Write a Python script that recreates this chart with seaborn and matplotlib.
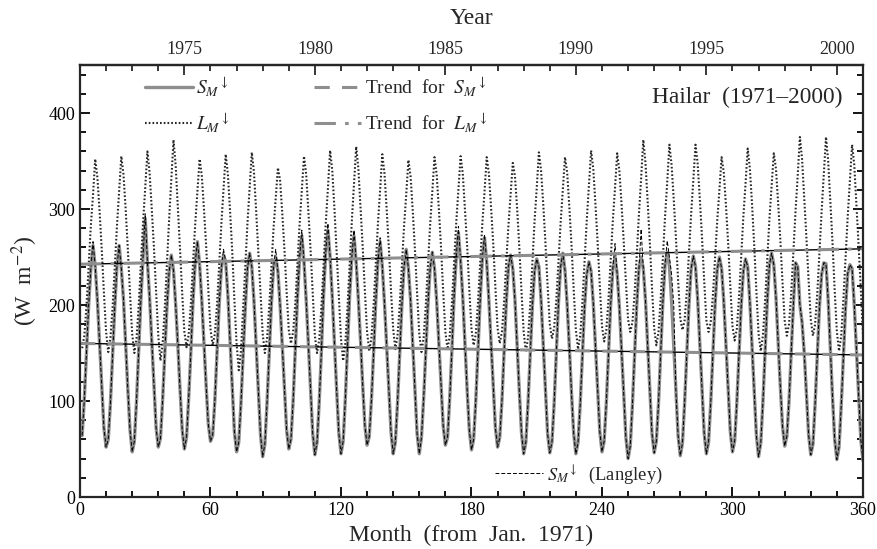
import numpy as np
import pandas as pd
import matplotlib
matplotlib.use("Agg")
import matplotlib.pyplot as plt
import seaborn as sns
from matplotlib.ticker import MultipleLocator

# ---------------- data ----------------
years = list(range(1971, 2001))

# monthly downward solar radiation S_M (W m-2), Jan..Dec for each year
sm_down = [
    [64, 102, 150, 200, 238, 262, 240, 205, 160, 114, 72, 52],   # 1971
    [60, 98, 148, 198, 240, 262, 238, 206, 158, 112, 70, 47],    # 1972
    [58, 100, 152, 205, 250, 290, 245, 208, 162, 115, 72, 52],   # 1973
    [61, 101, 150, 198, 235, 252, 236, 200, 158, 112, 70, 50],   # 1974
    [62, 104, 152, 205, 245, 266, 242, 205, 160, 116, 76, 58],   # 1975
    [64, 100, 149, 200, 238, 252, 245, 210, 162, 112, 68, 47],   # 1976
    [57, 97, 147, 197, 238, 254, 240, 204, 157, 110, 65, 42],    # 1977
    [55, 98, 150, 200, 240, 250, 235, 200, 158, 113, 70, 50],    # 1978
    [60, 100, 153, 207, 250, 272, 245, 205, 160, 112, 66, 44],   # 1979
    [57, 99, 152, 210, 255, 278, 250, 208, 160, 112, 67, 45],    # 1980
    [58, 102, 155, 210, 250, 272, 244, 205, 162, 116, 74, 54],   # 1981
    [63, 101, 150, 203, 245, 266, 240, 202, 158, 112, 68, 45],   # 1982
    [57, 98, 148, 200, 240, 258, 238, 205, 158, 110, 66, 45],    # 1983
    [62, 102, 150, 200, 238, 255, 238, 204, 160, 114, 74, 54],   # 1984
    [62, 103, 153, 208, 250, 275, 246, 208, 160, 112, 70, 49],   # 1985
    [60, 101, 152, 205, 248, 270, 245, 205, 160, 113, 72, 52],   # 1986
    [62, 100, 150, 202, 240, 252, 238, 205, 158, 110, 67, 45],   # 1987
    [57, 98, 148, 198, 235, 248, 240, 205, 158, 110, 66, 46],    # 1988
    [57, 97, 150, 202, 240, 254, 236, 200, 156, 108, 66, 45],    # 1989
    [57, 97, 147, 198, 232, 245, 235, 202, 157, 110, 68, 47],    # 1990
    [58, 98, 148, 200, 238, 250, 232, 198, 152, 105, 62, 40],    # 1991
    [53, 96, 148, 200, 238, 250, 238, 205, 158, 110, 66, 46],    # 1992
    [58, 98, 150, 203, 242, 255, 240, 204, 158, 110, 64, 43],    # 1993
    [56, 98, 150, 200, 238, 251, 240, 206, 160, 112, 66, 45],    # 1994
    [57, 98, 150, 200, 237, 250, 238, 204, 158, 112, 68, 47],    # 1995
    [58, 98, 148, 198, 235, 248, 240, 203, 156, 108, 64, 42],    # 1996
    [56, 99, 152, 203, 242, 254, 242, 208, 162, 115, 74, 53],    # 1997
    [63, 100, 150, 200, 244, 240, 200, 182, 150, 108, 65, 44],   # 1998
    [55, 97, 148, 198, 232, 244, 243, 205, 155, 104, 60, 39],    # 1999
    [52, 95, 147, 197, 233, 242, 238, 200, 153, 105, 60, 38],    # 2000
]

# monthly downward longwave radiation L_M (W m-2), Jan..Dec for each year
lm_down = [
    [155, 168, 200, 242, 283, 315, 352, 333, 298, 258, 213, 172],  # 1971
    [151, 166, 198, 240, 282, 318, 355, 336, 300, 258, 212, 170],  # 1972
    [150, 165, 200, 244, 286, 322, 360, 338, 300, 260, 214, 168],  # 1973
    [142, 160, 198, 243, 290, 330, 372, 345, 302, 258, 212, 172],  # 1974
    [156, 170, 202, 245, 285, 318, 352, 335, 300, 262, 216, 175],  # 1975
    [158, 170, 200, 242, 284, 320, 357, 336, 298, 256, 205, 160],  # 1976
    [132, 152, 195, 240, 285, 322, 359, 338, 298, 255, 210, 170],  # 1977
    [150, 165, 198, 240, 280, 312, 343, 330, 296, 258, 214, 174],  # 1978
    [160, 172, 202, 244, 285, 320, 355, 336, 298, 258, 212, 168],  # 1979
    [150, 164, 198, 242, 285, 322, 361, 340, 300, 255, 208, 165],  # 1980
    [142, 160, 198, 244, 288, 326, 365, 342, 302, 260, 214, 172],  # 1981
    [152, 166, 200, 243, 285, 320, 357, 337, 300, 260, 215, 175],  # 1982
    [154, 168, 200, 242, 282, 315, 351, 334, 298, 258, 212, 170],  # 1983
    [151, 166, 200, 243, 284, 318, 354, 336, 300, 260, 214, 172],  # 1984
    [154, 168, 202, 245, 286, 320, 355, 337, 300, 262, 216, 175],  # 1985
    [158, 170, 203, 245, 285, 318, 354, 337, 302, 264, 218, 176],  # 1986
    [160, 172, 204, 245, 283, 315, 348, 334, 300, 260, 214, 172],  # 1987
    [151, 166, 200, 244, 287, 322, 359, 340, 305, 265, 220, 180],  # 1988
    [165, 176, 205, 246, 286, 320, 354, 338, 302, 262, 216, 174],  # 1989
    [154, 168, 203, 246, 288, 324, 361, 342, 305, 265, 220, 178],  # 1990
    [162, 174, 206, 248, 288, 322, 358, 340, 305, 266, 224, 185],  # 1991
    [172, 182, 212, 252, 295, 332, 372, 348, 308, 265, 218, 176],  # 1992
    [158, 172, 207, 250, 292, 328, 367, 346, 310, 270, 226, 186],  # 1993
    [174, 184, 214, 254, 295, 330, 367, 347, 310, 270, 225, 184],  # 1994
    [172, 182, 210, 250, 288, 320, 354, 338, 304, 265, 220, 178],  # 1995
    [163, 175, 208, 250, 292, 326, 363, 342, 305, 262, 214, 170],  # 1996
    [152, 168, 205, 248, 290, 324, 358, 342, 306, 268, 224, 184],  # 1997
    [168, 180, 212, 255, 298, 335, 375, 352, 312, 270, 226, 185],  # 1998
    [168, 180, 212, 255, 298, 336, 375, 350, 308, 265, 215, 172],  # 1999
    [152, 168, 206, 250, 293, 330, 367, 346, 305, 262, 215, 170],  # 2000
]

# Langley-based S_M: same as S_M except these months (index 0 = Jan 1971)
langley_override = {5: 266, 29: 295, 65: 258, 89: 258, 101: 278, 113: 285,
                    125: 278, 137: 270, 173: 282, 185: 273, 245: 264,
                    257: 279, 269: 267, 270: 250, 271: 232, 272: 200}

trend_months = [0, 360]
trend_sm = [160.0, 148.0]
trend_lm = [242.5, 258.5]

year_labels = [1975, 1980, 1985, 1990, 1995, 2000]
month_ticks = [0, 60, 120, 180, 240, 300, 360]
y_ticks = [0, 100, 200, 300, 400]

# ---------------- build frames ----------------
month = np.arange(1, 361)
S = np.array(sm_down, dtype=float).ravel()
L = np.array(lm_down, dtype=float).ravel()
Lang = S.copy()
for k, v in langley_override.items():
    Lang[k] = v
df = pd.DataFrame({"month": month, "S": S, "L": L, "Lang": Lang})
dft = pd.DataFrame({"month": trend_months, "tS": trend_sm, "tL": trend_lm})

# ---------------- style ----------------
sns.set_theme(style="ticks")
plt.rcParams["font.family"] = ["Liberation Serif", "DejaVu Serif"]
plt.rcParams["mathtext.fontset"] = "stix"
plt.rcParams["axes.linewidth"] = 1.6

fig = plt.figure(figsize=(8.77, 5.49), dpi=100)
ax = fig.add_axes([0.0912, 0.0947, 0.8928, 0.7869])

gray = "#8e8e8e"
sns.lineplot(data=df, x="month", y="S", ax=ax, color=gray, lw=2.4)
hS = ax.lines[-1]
sns.lineplot(data=df, x="month", y="Lang", ax=ax, color="black", lw=0.7,
             linestyle=(0, (4, 2)))
hLang = ax.lines[-1]
sns.lineplot(data=df, x="month", y="L", ax=ax, color="#262626", lw=1.5,
             linestyle=(0, (0.8, 1.0)))
hL = ax.lines[-1]

# trend lines: thin black underlay + gray dashed on top
sns.lineplot(data=dft, x="month", y="tS", ax=ax, color="black", lw=1.0)
sns.lineplot(data=dft, x="month", y="tS", ax=ax, color=gray, lw=2.2,
             linestyle=(0, (5, 4)))
hTS = ax.lines[-1]
sns.lineplot(data=dft, x="month", y="tL", ax=ax, color="black", lw=1.0)
sns.lineplot(data=dft, x="month", y="tL", ax=ax, color=gray, lw=2.2,
             linestyle=(0, (7, 3, 1.2, 3)))
hTL = ax.lines[-1]

ax.set_xlim(0, 360)
ax.set_ylim(0, 450)
ax.set_xticks(month_ticks)
ax.set_yticks(y_ticks)
ax.xaxis.set_minor_locator(MultipleLocator(12))
ax.yaxis.set_minor_locator(MultipleLocator(20))
ax.tick_params(which="both", direction="in", top=False, right=True,
               labelsize=13, width=1.3, colors="black")
ax.tick_params(which="major", length=7)
ax.tick_params(which="minor", length=4)
ax.set_xlabel("Month  (from  Jan.  1971)", fontsize=17, labelpad=4)
ax.set_ylabel("(W  m$^{-2}$)", fontsize=17, labelpad=6)

sec = ax.secondary_xaxis("top")
sec.set_xticks([(y - 1971) * 12 for y in year_labels],
               labels=[str(y) for y in year_labels])
sec.xaxis.set_minor_locator(MultipleLocator(12))
sec.tick_params(which="both", direction="in", labelsize=13, width=1.3,
                pad=5)
sec.tick_params(which="major", length=7)
sec.tick_params(which="minor", length=4)
sec.set_xlabel("Year", fontsize=17, labelpad=12)

ax.text(0.974, 0.926, "Hailar  (1971\u20132000)", transform=ax.transAxes,
        ha="right", va="center", fontsize=16.8)

leg = ax.legend([hS, hL, hTS, hTL],
                [r"$S_M{}^{\downarrow}$", r"$L_M{}^{\downarrow}$",
                 r"Trend  for  $S_M{}^{\downarrow}$",
                 r"Trend  for  $L_M{}^{\downarrow}$"],
                ncol=2, loc="upper left", bbox_to_anchor=(0.083, 0.975),
                frameon=False, fontsize=14, handlelength=2.45,
                handletextpad=0.2, columnspacing=4.3, labelspacing=0.62,
                borderpad=0, borderaxespad=0)
ax.add_artist(leg)
ax.legend([hLang], [r"$S_M{}^{\downarrow}$  (Langley)"], loc="center left",
          bbox_to_anchor=(0.53, 0.051), frameon=False, fontsize=13.3,
          handlelength=2.6, handletextpad=0.2, borderpad=0, borderaxespad=0)

fig.savefig("out.png", dpi=100)
